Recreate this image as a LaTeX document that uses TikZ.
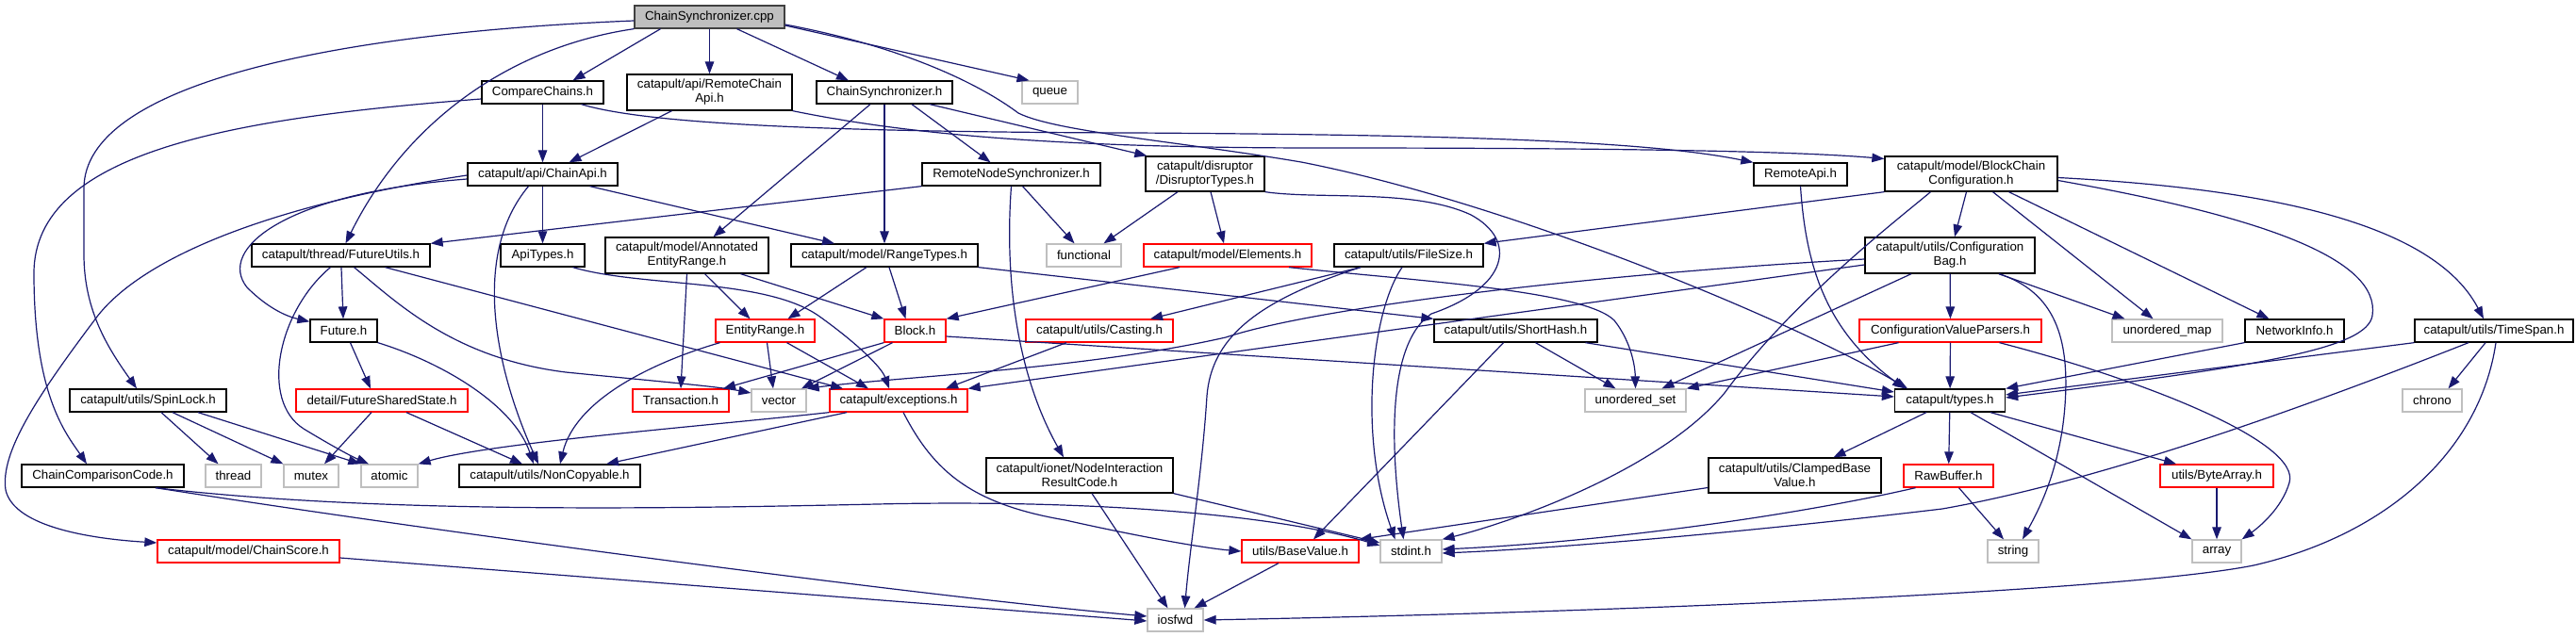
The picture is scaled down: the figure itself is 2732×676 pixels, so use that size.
\documentclass[tikz,border=0pt]{standalone}
\usepackage{fontspec}
\setmainfont{Liberation Sans}
\usetikzlibrary{arrows.meta}
\definecolor{edgeblue}{RGB}{25,25,112}
\definecolor{sysgray}{RGB}{191,191,191}
\definecolor{darkbord}{RGB}{64,64,64}
\definecolor{redbord}{RGB}{255,0,0}
\newcommand\nodefont{\fontsize{13.3}{15}\selectfont}
\tikzset{
  nd/.style={rectangle, draw=black, line width=1.3pt, inner sep=0pt, minimum height=24pt, font=\nodefont, text=black, fill=white},
  gr/.style={nd, draw=sysgray},
  rd/.style={nd, draw=redbord},
  two/.style={minimum height=37pt, align=center},
  dep/.style={draw=edgeblue, line width=1.2pt, -{Triangle[length=13pt,width=9.5pt]}},
}
\begin{document}
\begin{tikzpicture}[x=1pt,y=-1pt]
\fill[white] (0,0) rectangle (2732,676);
\useasboundingbox (0,0) rectangle (2732,676);

% row 0
\node[nd, fill=sysgray, draw=darkbord, minimum width=159pt] (cpp) at (752.5,18) {ChainSynchronizer.cpp};
% row 1
\node[nd, minimum width=129pt] (cc) at (575.5,98) {CompareChains.h};
\node[nd, two, minimum width=175pt, minimum height=38pt] (rca) at (752.5,98) {catapult/api/RemoteChain\\Api.h};
\node[nd, minimum width=144pt] (csh) at (938,98) {ChainSynchronizer.h};
\node[gr, minimum width=59pt] (que) at (1113.5,98) {queue};
% row 2
\node[nd, minimum width=159pt] (capi) at (575.5,185) {catapult/api/ChainApi.h};
\node[nd, minimum width=189pt] (rns) at (1072.5,185) {RemoteNodeSynchronizer.h};
\node[nd, two, minimum width=126pt] (dt) at (1278,184.5) {catapult/disruptor\\/DisruptorTypes.h};
\node[nd, minimum width=99pt] (rapi) at (1909.5,185) {RemoteApi.h};
\node[nd, two, minimum width=183pt] (bcc) at (2090.5,184.5) {catapult/model/BlockChain\\Configuration.h};
% row 3
\node[nd, minimum width=189pt] (fu) at (361.5,271) {catapult/thread/FutureUtils.h};
\node[nd, minimum width=89pt] (apit) at (575.5,271) {ApiTypes.h};
\node[nd, two, minimum width=173pt, minimum height=38pt] (aer) at (728.5,271) {catapult/model/Annotated\\EntityRange.h};
\node[nd, minimum width=198pt] (rt) at (938,271) {catapult/model/RangeTypes.h};
\node[gr, minimum width=79pt] (func) at (1149.5,271) {functional};
\node[rd, minimum width=178pt] (elem) at (1302,271) {catapult/model/Elements.h};
\node[nd, minimum width=158pt] (fs) at (1494,271) {catapult/utils/FileSize.h};
\node[nd, two, minimum width=180pt, minimum height=38pt] (cb) at (2068,271) {catapult/utils/Configuration\\Bag.h};
% row 4
\node[nd, minimum width=71pt] (fut) at (364.5,351) {Future.h};
\node[rd, minimum width=105pt] (er) at (811.5,351) {EntityRange.h};
\node[rd, minimum width=65pt] (blk) at (970.5,351) {Block.h};
\node[rd, minimum width=156pt] (cast) at (1166,351) {catapult/utils/Casting.h};
\node[nd, minimum width=173pt] (sh) at (1607.5,351) {catapult/utils/ShortHash.h};
\node[rd, minimum width=193pt] (cvp) at (2068.5,351) {ConfigurationValueParsers.h};
\node[gr, minimum width=117pt] (um) at (2298.5,351) {unordered\_map};
\node[nd, minimum width=105pt] (ni) at (2433.5,351) {NetworkInfo.h};
\node[nd, minimum width=168pt] (ts) at (2645,351) {catapult/utils/TimeSpan.h};
% row 5
\node[nd, minimum width=166pt] (sl) at (157,425) {catapult/utils/SpinLock.h};
\node[rd, minimum width=182pt] (fss) at (405,425) {detail/FutureSharedState.h};
\node[rd, minimum width=102pt] (tr) at (722,425) {Transaction.h};
\node[gr, minimum width=58pt] (vec) at (826,425) {vector};
\node[rd, minimum width=146pt] (exc) at (953,425) {catapult/exceptions.h};
\node[gr, minimum width=107pt] (us) at (1734.5,425) {unordered\_set};
\node[nd, minimum width=117pt] (types) at (2068,425) {catapult/types.h};
\node[gr, minimum width=63pt] (chr) at (2579.5,425) {chrono};
% row 6
\node[nd, minimum width=172pt] (ccc) at (109,505) {ChainComparisonCode.h};
\node[gr, minimum width=59pt] (th) at (247.5,505) {thread};
\node[gr, minimum width=58pt] (mut) at (330,505) {mutex};
\node[gr, minimum width=60pt] (atom) at (413,505) {atomic};
\node[nd, minimum width=192pt] (nc) at (583,505) {catapult/utils/NonCopyable.h};
\node[nd, two, minimum width=198pt] (nirc) at (1145,504.5) {catapult/ionet/NodeInteraction\\ResultCode.h};
\node[nd, two, minimum width=183pt] (cbv) at (1903.5,504.5) {catapult/utils/ClampedBase\\Value.h};
\node[rd, minimum width=95pt] (rb) at (2066.5,505) {RawBuffer.h};
\node[rd, minimum width=120pt] (ba) at (2351,505) {utils/ByteArray.h};
% row 7
\node[rd, minimum width=193pt] (cs) at (263.5,585) {catapult/model/ChainScore.h};
\node[rd, minimum width=124pt] (bv) at (1379,585) {utils/BaseValue.h};
\node[gr, minimum width=65pt] (sti) at (1496.5,585) {stdint.h};
\node[gr, minimum width=54pt] (str) at (2135,585) {string};
\node[gr, minimum width=52pt] (arr) at (2351,585) {array};
% row 8
\node[gr, minimum width=59pt] (ios) at (1246.5,658) {iosfwd};

% ---- edges from ChainSynchronizer.cpp
\draw[dep] ([xshift=-52pt]cpp.south) -- ([xshift=32pt]cc.north);
\draw[dep] (cpp) -- (rca);
\draw[dep] ([xshift=29pt]cpp.south) -- ([xshift=-38pt]csh.north);
\draw[dep] ([yshift=-9pt]cpp.east) -- ([xshift=-22pt]que.north);
\draw[dep] (cpp.south west) .. controls (540,50) and (430,130) .. ([xshift=5pt]fu.north);
\draw[dep] ([yshift=-4pt]cpp.west) .. controls (350,35) and (89,90) .. (89,200) -- (89,270) .. controls (89,330) and (115,370) .. ([xshift=-12pt]sl.north);
\draw[dep] ([yshift=-8pt]cpp.east) .. controls (960,50) and (1040,90) .. (1080,120) .. controls (1120,140) and (1250,150) .. (1380,172) .. controls (1600,215) and (1900,340) .. ([xshift=-45pt]types.north);

% ---- CompareChains.h
\draw[dep] (cc) -- (capi);
\draw[dep] ([yshift=-7pt]cc.west) .. controls (250,125) and (36,160) .. (36,290) .. controls (36,420) and (70,460) .. ([xshift=-17pt]ccc.north);
\draw[dep] ([xshift=41pt]cc.south) .. controls (680,130) and (850,140) .. (1200,141) .. controls (1550,143) and (1750,150) .. (rapi.north west);

% ---- RemoteChainApi.h
\draw[dep] ([xshift=-40pt]rca.south) -- ([xshift=28pt]capi.north);
\draw[dep] (rca.south east) .. controls (950,140) and (1100,157) .. (1400,157) .. controls (1700,157) and (1900,160) .. ([yshift=16pt]bcc.west);

% ---- ChainSynchronizer.h
\draw[dep] ([xshift=29pt]csh.south) -- ([xshift=-22pt]rns.north);
\draw[dep] (csh) -- (rt);
\draw[dep] ([xshift=-15pt]csh.south) -- ([xshift=28pt]aer.north);
\draw[dep] ([xshift=48pt]csh.south) -- ([xshift=2pt]dt.north west);

% ---- ChainApi.h
\draw[dep] (capi) -- (apit);
\draw[dep] ([xshift=50pt]capi.south) -- ([xshift=-53pt]rt.north);
\draw[dep] ([xshift=-15pt]capi.south) .. controls (500,270) and (525,390) .. ([xshift=-12pt]nc.north);
\draw[dep] ([yshift=-5pt]capi.west) .. controls (300,205) and (230,265) .. (262,305) .. controls (285,328) and (305,336) .. ([yshift=-3pt]fut.north west);
\draw[dep] ([yshift=-1pt]capi.west) .. controls (300,215) and (150,270) .. (100,340) .. controls (40,420) and (0,480) .. (6,520) .. controls (15,560) and (100,572) .. ([yshift=9pt]cs.west);

% ---- RemoteNodeSynchronizer.h
\draw[dep] (rns.south west) -- (fu.north east);
\draw[dep] ([xshift=12pt]rns.south) -- ([xshift=-10pt]func.north);
\draw[dep] (rns.south) .. controls (1065,300) and (1080,400) .. ([xshift=-17pt]nirc.north);

% ---- DisruptorTypes.h
\draw[dep] ([xshift=-29pt]dt.south) -- ([xshift=21pt]func.north);
\draw[dep] ([xshift=6pt]dt.south) -- ([xshift=-4pt]elem.north);
\draw[dep] (dt.south east) .. controls (1400,212) and (1500,200) .. (1560,228) .. controls (1610,255) and (1600,305) .. (1518,333) .. controls (1470,365) and (1475,480) .. ([xshift=-8pt]sti.north);

% ---- RemoteApi.h
\draw[dep] (rapi.south) .. controls (1915,280) and (1935,350) .. ([xshift=-48pt]types.north);

% ---- BlockChainConfiguration.h
\draw[dep] (bcc.south west) -- (fs.north east);
\draw[dep] ([xshift=-43pt]bcc.south) .. controls (2010,235) and (1900,320) .. (1829,417) .. controls (1760,500) and (1600,555) .. (sti.north east);
\draw[dep] ([xshift=-5pt]bcc.south) -- ([xshift=5pt]cb.north);
\draw[dep] ([xshift=23pt]bcc.south) -- ([xshift=-15pt]um.north);
\draw[dep] ([xshift=40pt]bcc.south) -- ([xshift=-27pt]ni.north);
\draw[dep] ([yshift=-7pt]bcc.east) .. controls (2400,230) and (2525,275) .. (2516,335) .. controls (2510,370) and (2400,388) .. ([yshift=3pt]types.east);
\draw[dep] ([yshift=-4pt]bcc.east) .. controls (2400,200) and (2580,235) .. ([xshift=-11pt]ts.north);

% ---- FutureUtils.h
\draw[dep] (fu) -- (fut);
\draw[dep] ([xshift=-11pt]fu.south) .. controls (295,330) and (275,425) .. (322,455) .. controls (350,472) and (372,484) .. ([xshift=-22pt]atom.north);
\draw[dep] ([xshift=14pt]fu.south) .. controls (420,320) and (480,380) .. (600,395) .. controls (700,405) and (760,410) .. ([yshift=8pt]vec.west);
\draw[dep] ([xshift=47pt]fu.south) -- ([xshift=-59pt]exc.north);

% ---- ApiTypes.h
\draw[dep] ([xshift=32pt]apit.south) .. controls (680,305) and (810,295) .. (868,335) .. controls (910,365) and (935,390) .. ([xshift=-10pt]exc.north);

% ---- AnnotatedEntityRange.h
\draw[dep] (aer.south) -- (tr.north);
\draw[dep] ([xshift=19pt]aer.south) -- ([xshift=-16pt]er.north);
\draw[dep] ([xshift=57pt]aer.south) -- (blk.north west);

% ---- RangeTypes.h
\draw[dep] ([xshift=-19pt]rt.south) -- ([xshift=24pt]er.north);
\draw[dep] ([xshift=5pt]rt.south) -- ([xshift=-10pt]blk.north);
\draw[dep] (rt.south east) -- (sh.north west);

% ---- Elements.h
\draw[dep] ([xshift=-51pt]elem.south) -- (blk.north east);
\draw[dep] ([xshift=65pt]elem.south) .. controls (1500,298) and (1680,308) .. (1712,340) .. controls (1728,360) and (1734,385) .. (us.north);

% ---- FileSize.h
\draw[dep] ([xshift=-51pt]fs.south) -- ([xshift=54pt]cast.north);
\draw[dep] ([xshift=-51pt]fs.south) .. controls (1330,320) and (1285,360) .. (1280,420) .. controls (1275,500) and (1262,580) .. ([xshift=10pt]ios.north);
\draw[dep] ([xshift=-7pt]fs.south) .. controls (1455,330) and (1440,460) .. ([xshift=-17pt]sti.north);

% ---- ConfigurationBag.h
\draw[dep] (cb) -- (cvp);
\draw[dep] ([xshift=52pt]cb.south) -- ([xshift=-45pt]um.north);
\draw[dep] ([xshift=52pt]cb.south) .. controls (2180,310) and (2195,360) .. (2190,430) .. controls (2185,500) and (2160,545) .. ([xshift=10pt]str.north);
\draw[dep] ([xshift=-41pt]cb.south) -- ([xshift=28pt]us.north);
\draw[dep] ([yshift=-4pt]cb.west) .. controls (1700,290) and (1400,325) .. (1300,358) .. controls (1150,392) and (950,400) .. (vec.north east);
\draw[dep] ([yshift=-10pt]cb.west) -- (exc.north east);

% ---- Future.h / FutureSharedState.h / SpinLock.h
\draw[dep] ([xshift=7pt]fut.south) -- ([xshift=-12pt]fss.north);
\draw[dep] (fut.south east) .. controls (470,385) and (545,430) .. ([xshift=-17pt]nc.north);
\draw[dep] ([xshift=-11pt]fss.south) -- ([xshift=14pt]mut.north);
\draw[dep] ([xshift=26pt]fss.south) -- ([xshift=-29pt]nc.north);
\draw[dep] ([xshift=14pt]sl.south) -- ([xshift=-16pt]th.north);
\draw[dep] ([xshift=26pt]sl.south) -- (mut.north west);
\draw[dep] ([xshift=53pt]sl.south) -- (atom.north west);

% ---- EntityRange.h / Block.h / Casting.h / ShortHash.h
\draw[dep] ([xshift=2pt]er.south) -- ([xshift=-6pt]vec.north);
\draw[dep] ([xshift=23pt]er.south) -- ([xshift=-32pt]exc.north);
\draw[dep] ([xshift=-48pt]er.south) .. controls (690,385) and (610,425) .. ([xshift=11pt]nc.north);
\draw[dep] ([yshift=-6pt]blk.east) -- ([yshift=4pt]types.west);
\draw[dep] (blk.south west) -- ([xshift=45pt]tr.north);
\draw[dep] ([xshift=-24pt]blk.south) -- ([xshift=24pt]vec.north);
\draw[dep] ([xshift=-35pt]cast.south) -- ([xshift=50pt]exc.north);
\draw[dep] ([xshift=-13pt]sh.south) -- ([xshift=14pt]bv.north);
\draw[dep] ([xshift=21pt]sh.south) -- ([xshift=-21pt]us.north);
\draw[dep] ([xshift=74pt]sh.south) -- ([yshift=9pt]types.west);

% ---- ConfigurationValueParsers.h
\draw[dep] (cvp) -- (types);
\draw[dep] ([xshift=-55pt]cvp.south) -- (us.north east);
\draw[dep] ([xshift=52pt]cvp.south) .. controls (2280,405) and (2440,470) .. (2428,512) .. controls (2420,540) and (2395,560) .. (arr.north east);

% ---- types.h
\draw[dep] (types) -- (rb);
\draw[dep] ([xshift=-25pt]types.south) -- ([xshift=41pt]cbv.north);
\draw[dep] ([xshift=43pt]types.south) -- ([xshift=-43pt]ba.north);
\draw[dep] ([xshift=22pt]types.south) -- (arr.north west);

% ---- NetworkInfo.h / TimeSpan.h
\draw[dep] (ni.south west) -- (types.north east);
\draw[dep] ([xshift=-9pt]ts.south) -- ([xshift=17pt]chr.north);
\draw[dep] (ts.south west) -- ([yshift=6pt]types.east);
\draw[dep] ([xshift=-27pt]ts.south) .. controls (2450,430) and (2230,510) .. (2060,540) .. controls (1850,565) and (1650,582) .. ([yshift=-2pt]sti.east);
\draw[dep] ([xshift=2pt]ts.south) .. controls (2630,480) and (2530,568) .. (2390,600) .. controls (2250,628) and (1700,650) .. (ios.east);

% ---- RawBuffer.h / ByteArray.h / ClampedBaseValue.h
\draw[dep] ([xshift=11pt]rb.south) -- ([xshift=-10pt]str.north);
\draw[dep] ([xshift=-35pt]rb.south) .. controls (1900,548) and (1700,575) .. ([yshift=2pt]sti.east);
\draw[dep] (ba) -- (arr);
\draw[dep] ([yshift=-13pt]cbv.west) -- (bv.north east);

% ---- exceptions.h
\draw[dep] ([xshift=-55pt]exc.south) -- ([xshift=60pt]nc.north);
\draw[dep] (exc.south west) .. controls (750,452) and (520,470) .. (atom.north east);
\draw[dep] ([xshift=5pt]exc.south) .. controls (990,500) and (1030,535) .. (1130,552) .. controls (1210,570) and (1280,582) .. (bv.west);

% ---- NodeInteractionResultCode.h / BaseValue.h
\draw[dep] ([xshift=13pt]nirc.south) -- ([xshift=-8pt]ios.north);
\draw[dep] (nirc.south east) -- ([yshift=9pt]sti.west);
\draw[dep] ([xshift=-23pt]bv.south) -- ([xshift=20pt]ios.north);

% ---- ChainComparisonCode.h / ChainScore.h
\draw[dep] ([xshift=56pt]ccc.south) .. controls (400,545) and (700,540) .. (930,535) .. controls (1150,530) and (1350,545) .. ([yshift=6pt]sti.west);
\draw[dep] ([xshift=56pt]ccc.south) .. controls (500,570) and (1000,635) .. ([yshift=4pt]ios.west);
\draw[dep] ([yshift=-7pt]cs.east) -- ([yshift=-1pt]ios.west);
\end{tikzpicture}
\end{document}
